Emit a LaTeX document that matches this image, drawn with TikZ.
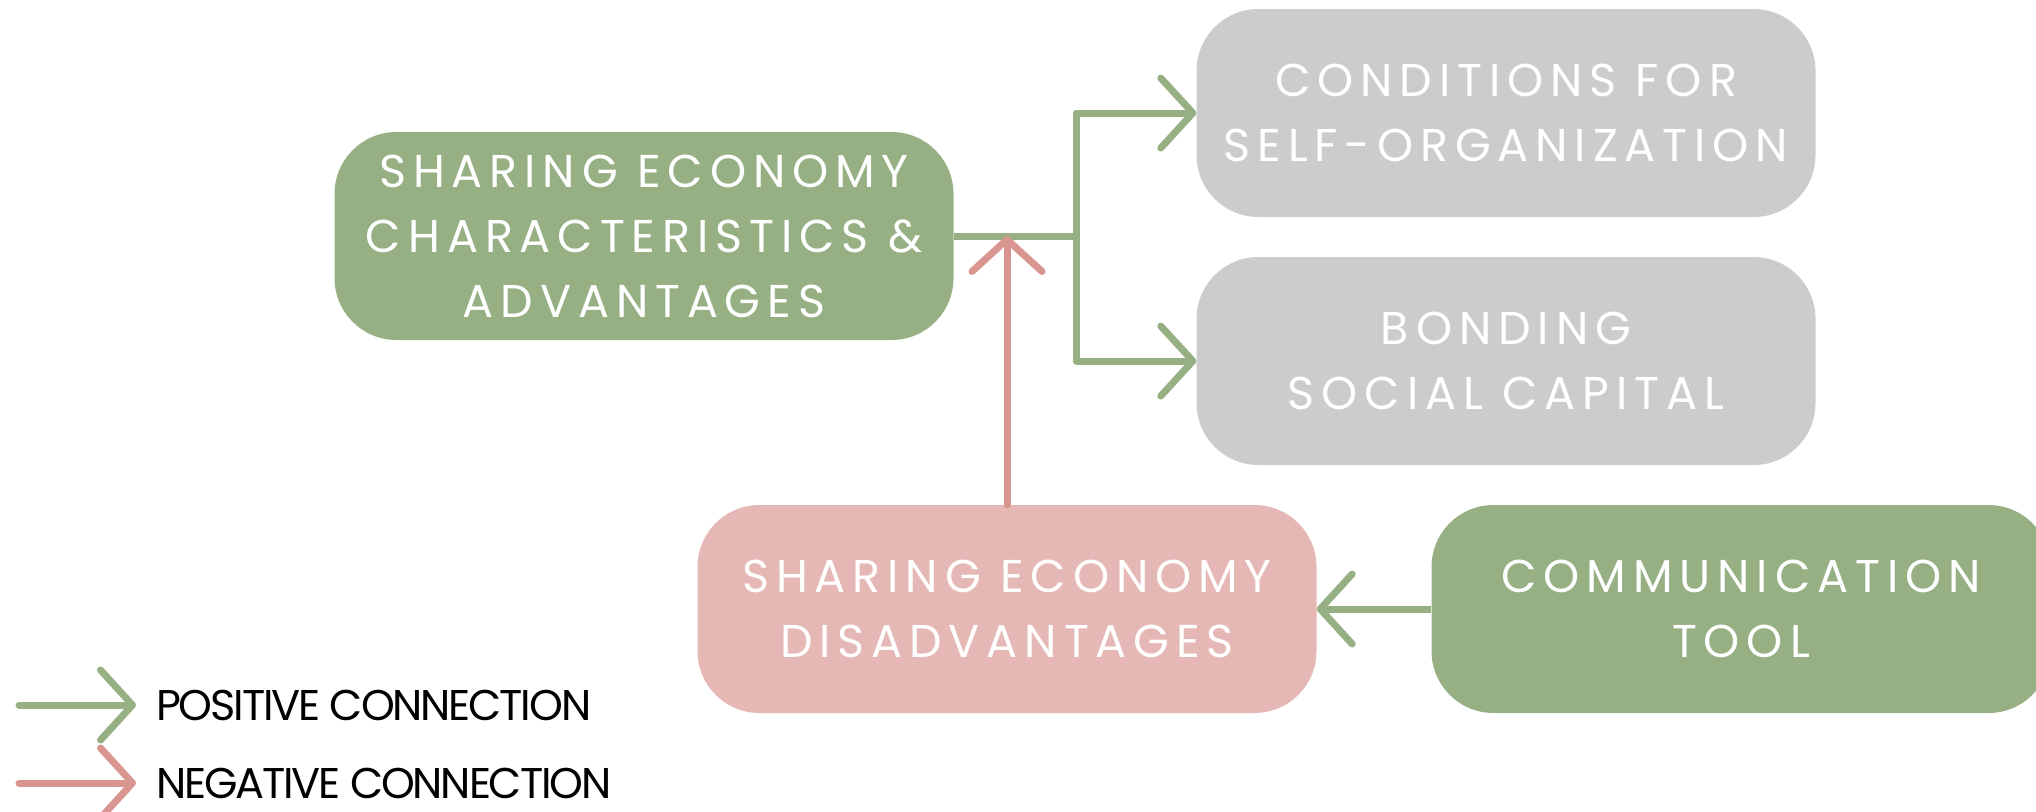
\documentclass[tikz,border=0pt]{standalone}
\usepackage{xcolor}
\usepackage{fontspec}
\usetikzlibrary{positioning, arrows.meta}
\newfontfamily\boxfont{Poppins}[LetterSpace=15]
\newfontfamily\legendfont{Poppins}[LetterSpace=-5]
\definecolor{posgreen}{HTML}{96B084}
\definecolor{neglink}{HTML}{D9958F}
\definecolor{negbox}{HTML}{E5B8B5}
\definecolor{neutralgray}{HTML}{CCCCCC}

\begin{document}
\begin{tikzpicture}[
      x=1pt, y=-1pt,
      node distance=20pt,
      box/.style={rounded corners=62pt, minimum width=619pt, minimum height=208pt, inner sep=0pt,
        align=center, text=white, font=\boxfont\fontsize{46}{65}\selectfont},
      legend/.style={inner sep=0pt, anchor=west, font=\legendfont\fontsize{43}{45}\selectfont},
      link/.style={line width=7pt, line cap=round, line join=round},
      posarrow/.style={link, posgreen, -{Straight Barb[length=32pt, width=70pt, round]}},
      negarrow/.style={link, neglink, -{Straight Barb[length=32pt, width=70pt, round]}}
    ]
    \useasboundingbox (0,0) rectangle (2036,811);
    \clip (0,0) rectangle (2036,811);

    \node[box, fill=posgreen] (sec) at (644,236) {SHARING ECONOMY\\CHARACTERISTICS \&\\ADVANTAGES};
    \node[box, fill=neutralgray] (cond) at (1506,113) {CONDITIONS FOR\\SELF-ORGANIZATION};
    \node[box, fill=neutralgray] (bond) at (1506,361) {BONDING\\SOCIAL CAPITAL};
    \node[box, fill=negbox] (dis) at (1007,609) {SHARING ECONOMY\\DISADVANTAGES};
    \node[box, fill=posgreen] (comm) at (1741,609) {COMMUNICATION\\TOOL};

    \coordinate (split) at (1076,236);
    \draw[link, posgreen, line cap=butt] (sec.east) -- (split);
    \draw[posarrow] (split) |- (cond.west);
    \draw[posarrow] (split) |- (bond.west);
    \draw[negarrow] (dis.north) -- (dis.north |- sec.east);
    \draw[posarrow, line cap=butt] (comm.west) -- (dis.east);

    \coordinate (posstart) at (19,705);
    \coordinate (posend) at (136,705);
    \coordinate (negstart) at (19,783);
    \coordinate (negend) at (136,783);
    \draw[posarrow] (posstart) -- (posend);
    \draw[negarrow] (negstart) -- (negend);
    \node[legend, right=of posend] (postext) {POSITIVE CONNECTION};
    \node[legend, right=of negend] (negtext) {NEGATIVE CONNECTION};
  \end{tikzpicture}
\end{document}
